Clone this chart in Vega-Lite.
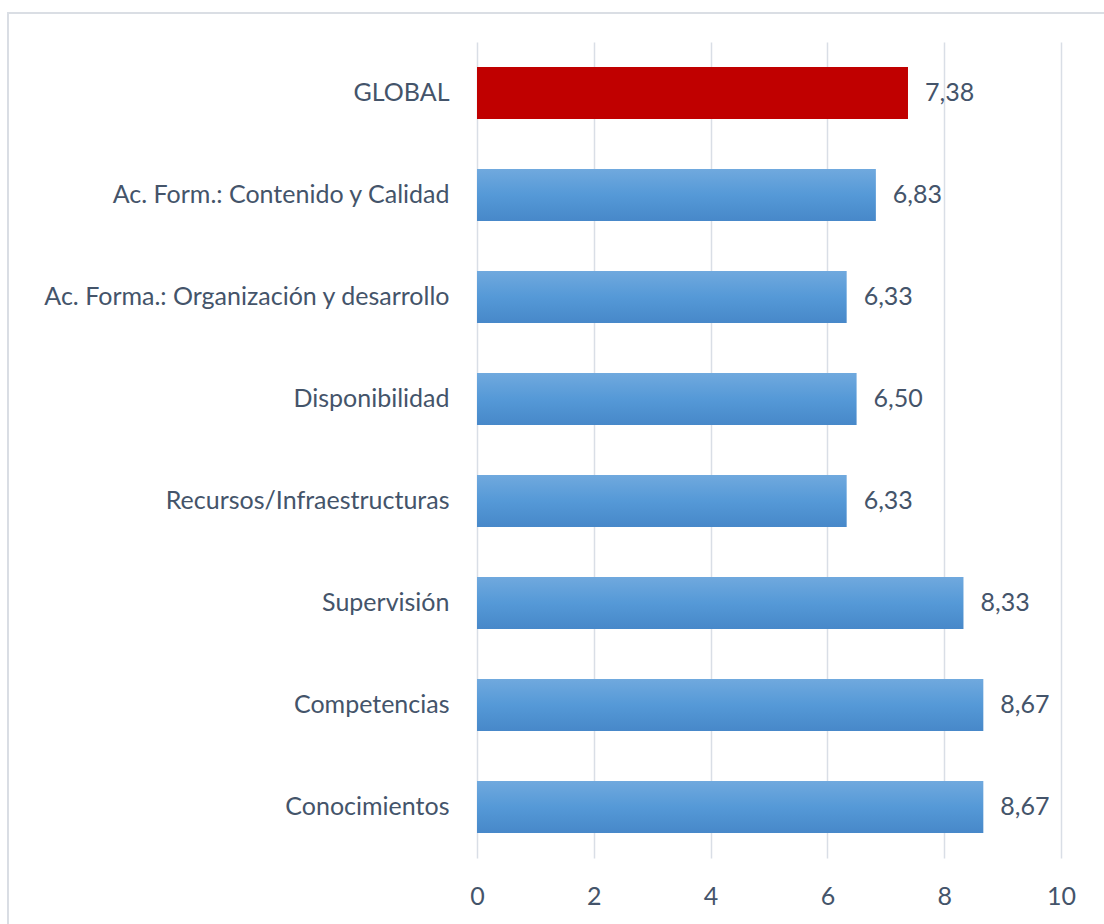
{
  "$schema": "https://vega.github.io/schema/vega-lite/v6.json",
  "autosize": "none",
  "padding": {"left": 477, "top": 42, "right": 43, "bottom": 66},
  "width": 584,
  "height": 816,
  "background": "white",
  "config": {
    "view": {"stroke": null},
    "locale": {"number": {"decimal": ",", "thousands": ".", "grouping": [3], "currency": ["", " €"]}},
    "font": "Lato"
  },
  "data": {
    "values": [
      {"cat": "GLOBAL", "v": 7.38},
      {"cat": "Ac. Form.: Contenido y Calidad", "v": 6.83},
      {"cat": "Ac. Forma.: Organización y desarrollo", "v": 6.33},
      {"cat": "Disponibilidad", "v": 6.5},
      {"cat": "Recursos/Infraestructuras", "v": 6.33},
      {"cat": "Supervisión", "v": 8.33},
      {"cat": "Competencias", "v": 8.67},
      {"cat": "Conocimientos", "v": 8.67}
    ]
  },
  "resolve": {"scale": {"y": "independent"}, "axis": {"y": "independent"}},
  "layer": [
    {
      "mark": {"type": "rect", "fill": null, "stroke": "#DADEE4", "strokeWidth": 1.5, "clip": false},
      "encoding": {
        "x": {"datum": -8.031, "type": "quantitative", "scale": {"domain": [0, 10], "nice": false, "zero": false}},
        "x2": {"datum": 11.5},
        "y": {"datum": 1.0355, "type": "quantitative", "scale": {"domain": [0, 1], "nice": false, "zero": false}, "axis": null},
        "y2": {"datum": -0.3}
      }
    },
    {
      "encoding": {
        "y": {
          "field": "cat",
          "type": "nominal",
          "sort": ["GLOBAL", "Ac. Form.: Contenido y Calidad", "Ac. Forma.: Organización y desarrollo", "Disponibilidad", "Recursos/Infraestructuras", "Supervisión", "Competencias", "Conocimientos"],
          "scale": {"paddingInner": 0.49, "paddingOuter": 0.245},
          "axis": {
            "title": null,
            "domain": false,
            "ticks": false,
            "tickSize": 0,
            "grid": false,
            "labelPadding": 28,
            "labelFont": "Lato",
            "labelFontSize": 25,
            "labelColor": "#44546A",
            "labelLimit": 600
          }
        },
        "x": {
          "field": "v",
          "type": "quantitative",
          "scale": {"domain": [0, 10], "nice": false, "zero": false},
          "axis": {
            "title": null,
            "values": [0, 2, 4, 6, 8, 10],
            "format": "d",
            "domain": false,
            "ticks": false,
            "tickSize": 0,
            "grid": true,
            "gridColor": "#D9DEE6",
            "gridWidth": 1.5,
            "labelFlush": false,
            "labelPadding": 26,
            "labelFont": "Lato",
            "labelFontSize": 25,
            "labelColor": "#44546A"
          }
        }
      },
      "layer": [
        {
          "transform": [{"filter": "datum.cat !== 'GLOBAL'"}],
          "mark": {
            "type": "bar",
            "fill": {
              "gradient": "linear",
              "x1": 0, "y1": 0, "x2": 0, "y2": 1,
              "stops": [
                {"offset": 0, "color": "#70A9DE"},
                {"offset": 0.5, "color": "#5599D7"},
                {"offset": 1, "color": "#4788C9"}
              ]
            }
          },
          "encoding": {"x2": {"datum": 0}}
        },
        {
          "transform": [{"filter": "datum.cat === 'GLOBAL'"}],
          "mark": {"type": "bar", "fill": "#C00000"},
          "encoding": {"x2": {"datum": 0}}
        },
        {
          "mark": {"type": "text", "align": "left", "baseline": "middle", "dx": 17, "font": "Lato", "fontSize": 25, "fill": "#44546A"},
          "encoding": {"text": {"field": "v", "type": "quantitative", "format": ".2f"}}
        }
      ]
    }
  ]
}
